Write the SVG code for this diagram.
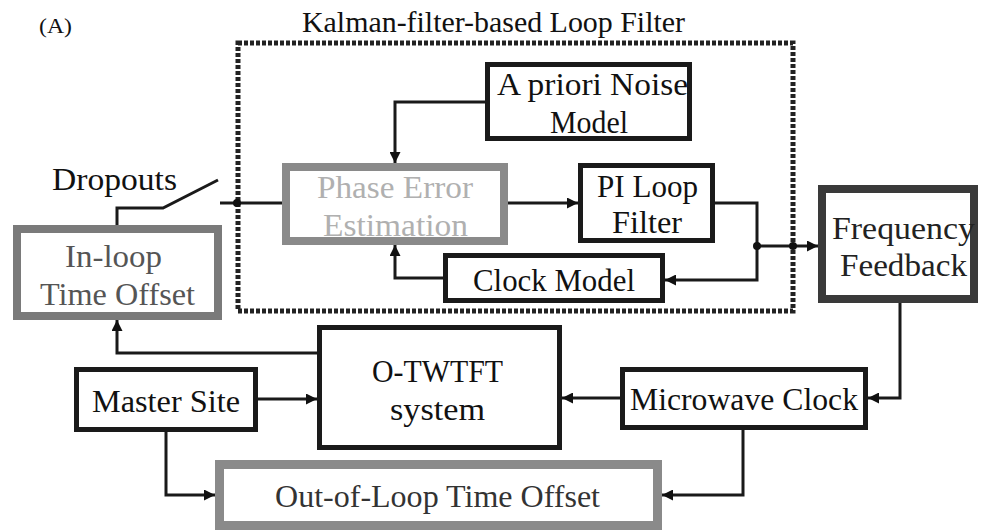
<svg xmlns="http://www.w3.org/2000/svg" width="981" height="531" viewBox="0 0 981 531">
<defs>
<marker id="ah" viewBox="0 0 10 10" refX="10" refY="5" markerWidth="11" markerHeight="11" markerUnits="userSpaceOnUse" orient="auto">
<path d="M0,0 L10,5 L0,10 z" fill="#111"/>
</marker>
<style>
text{font-family:"Liberation Serif","Times New Roman",serif;font-size:31px;fill:#111;}
.blk{fill:#fff;stroke:#1a1a1a;stroke-width:5;}
.gry{fill:#fff;stroke:#8a8a8a;stroke-width:8;}
.dk{fill:#fff;stroke:#3a3a3a;stroke-width:8;}
.con{fill:none;stroke:#1a1a1a;stroke-width:3;}
.kal{fill:none;stroke:#222;stroke-width:5;stroke-dasharray:4 2;}
</style>
</defs>
<rect width="981" height="531" fill="#fff"/>
<text x="39" y="33" style="font-size:22px" textLength="33" lengthAdjust="spacingAndGlyphs">(A)</text>
<g id="kalman-loop-filter">
<rect class="kal" x="238" y="43" width="555" height="268"/>
<text x="302" y="32" style="font-size:30px" textLength="383" lengthAdjust="spacingAndGlyphs">Kalman-filter-based Loop Filter</text>
</g>
<g id="dropouts-label">
<text x="52" y="190" textLength="125" lengthAdjust="spacingAndGlyphs">Dropouts</text>
</g>
<g id="connectors">
<path class="con" d="M487,102 H395 V163" marker-end="url(#ah)"/>
<path class="con" d="M445,278 H395 V245" marker-end="url(#ah)"/>
<path class="con" d="M508,203 H578" marker-end="url(#ah)"/>
<path class="con" d="M715,203 H757 V246 H818" marker-end="url(#ah)"/>
<path class="con" d="M757,246 V280 H665" marker-end="url(#ah)"/>
<path class="con" d="M900,303 V398 H868" marker-end="url(#ah)"/>
<path class="con" d="M620,398 H562" marker-end="url(#ah)"/>
<path class="con" d="M258,399 H317" marker-end="url(#ah)"/>
<path class="con" d="M317,353 H117 V320" marker-end="url(#ah)"/>
<path class="con" d="M166,432 V495 H215" marker-end="url(#ah)"/>
<path class="con" d="M743,430 V495 H662" marker-end="url(#ah)"/>
<path class="con" d="M117,225 V208 H163 L218,180"/>
<path class="con" d="M220,203 H282"/>
<circle cx="237" cy="203" r="4" fill="#111"/>
<circle cx="757" cy="246" r="4" fill="#111"/>
<circle cx="793" cy="246" r="4" fill="#111"/>
</g>
<g id="a-priori-noise-model">
<rect class="blk" x="487.5" y="64.5" width="202" height="74"/>
<text x="497" y="95" textLength="191" lengthAdjust="spacingAndGlyphs">A priori Noise</text>
<text x="550" y="133" textLength="78" lengthAdjust="spacingAndGlyphs">Model</text>
</g>
<g id="phase-error-estimation">
<rect class="gry" x="286" y="167" width="218" height="74"/>
<text x="317" y="198" style="fill:#b0b0b0" textLength="156" lengthAdjust="spacingAndGlyphs">Phase Error</text>
<text x="323" y="236" style="fill:#b0b0b0" textLength="145" lengthAdjust="spacingAndGlyphs">Estimation</text>
</g>
<g id="pi-loop-filter">
<rect class="blk" x="580.5" y="165.5" width="132" height="75"/>
<text x="597" y="197" textLength="101" lengthAdjust="spacingAndGlyphs">PI Loop</text>
<text x="612" y="233" textLength="70" lengthAdjust="spacingAndGlyphs">Filter</text>
</g>
<g id="clock-model">
<rect class="blk" x="445.5" y="255.5" width="217" height="45"/>
<text x="473" y="291" textLength="162" lengthAdjust="spacingAndGlyphs">Clock Model</text>
</g>
<g id="in-loop-time-offset">
<rect class="gry" x="17" y="229" width="201" height="87" style="stroke:#7a7a7a"/>
<text x="65" y="267" style="fill:#555" textLength="97" lengthAdjust="spacingAndGlyphs">In-loop</text>
<text x="40" y="305" style="fill:#555" textLength="155" lengthAdjust="spacingAndGlyphs">Time Offset</text>
</g>
<g id="frequency-feedback">
<rect class="dk" x="822" y="189" width="152" height="110"/>
<text x="832" y="239" style="fill:#222" textLength="143" lengthAdjust="spacingAndGlyphs">Frequency</text>
<text x="840" y="276" style="fill:#222" textLength="127" lengthAdjust="spacingAndGlyphs">Feedback</text>
</g>
<g id="o-twtft-system">
<rect class="blk" x="319.5" y="327.5" width="240" height="120"/>
<text x="372" y="382" textLength="131" lengthAdjust="spacingAndGlyphs">O-TWTFT</text>
<text x="390" y="420" textLength="95" lengthAdjust="spacingAndGlyphs">system</text>
</g>
<g id="master-site">
<rect class="blk" x="76.5" y="369.5" width="179" height="60"/>
<text x="92" y="412" textLength="148" lengthAdjust="spacingAndGlyphs">Master Site</text>
</g>
<g id="microwave-clock">
<rect class="blk" x="622.5" y="369.5" width="243" height="58"/>
<text x="630" y="410" textLength="228" lengthAdjust="spacingAndGlyphs">Microwave Clock</text>
</g>
<g id="out-of-loop-time-offset">
<rect class="gry" x="219.5" y="464.5" width="438" height="61" style="stroke-width:9"/>
<text x="275" y="507" style="fill:#333" textLength="325" lengthAdjust="spacingAndGlyphs">Out-of-Loop Time Offset</text>
</g>
</svg>
